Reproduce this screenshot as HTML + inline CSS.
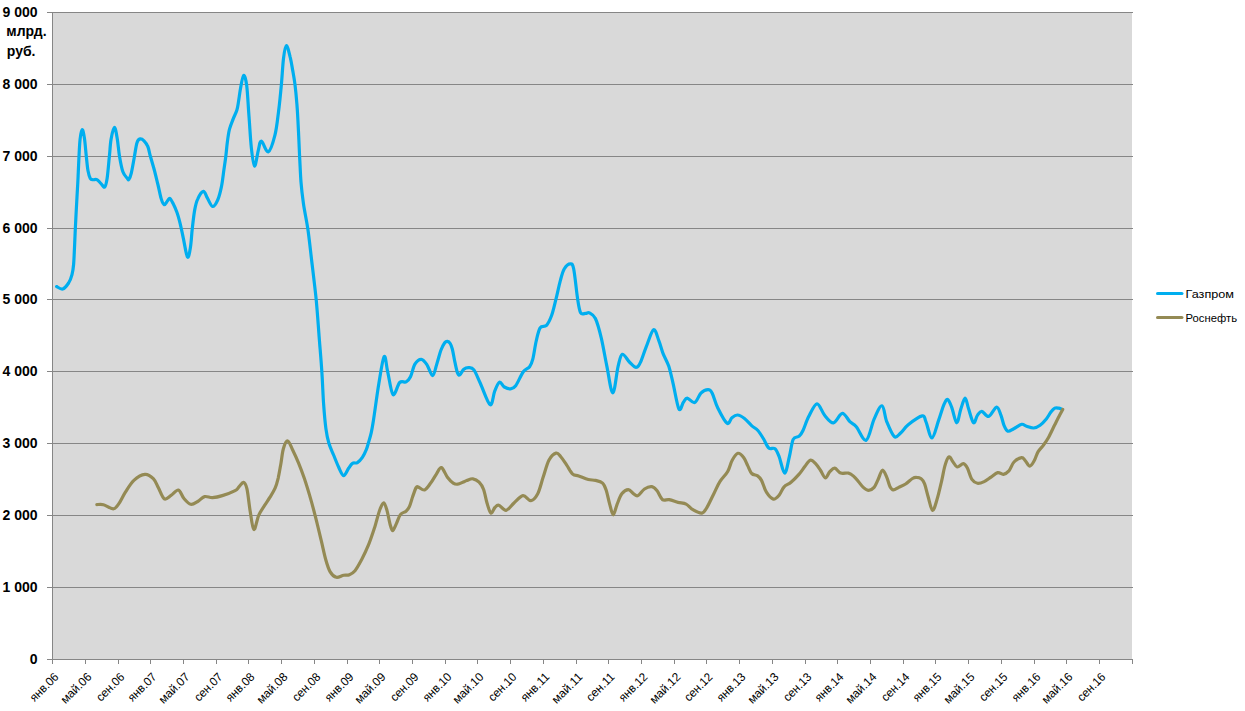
<!DOCTYPE html>
<html><head><meta charset="utf-8"><style>
html,body{margin:0;padding:0;background:#fff;}
body{width:1245px;height:711px;overflow:hidden;}
svg{display:block;}
.yl{font-family:"Liberation Sans",sans-serif;font-weight:bold;font-size:14px;fill:#000;}
.xl{font-family:"Liberation Sans",sans-serif;font-size:12px;fill:#000;}
.lg{font-family:"Liberation Sans",sans-serif;font-size:11.5px;fill:#000;}
.un{font-family:"Liberation Sans",sans-serif;font-weight:bold;font-size:14px;fill:#000;}
</style></head><body>
<svg width="1245" height="711" viewBox="0 0 1245 711">
<rect width="1245" height="711" fill="#fff"/>
<rect x="52.5" y="12.0" width="1079.5" height="647.0" fill="#d9d9d9"/><line x1="47" y1="12.5" x2="1133.0" y2="12.5" stroke="#868686" stroke-width="1"/><line x1="47" y1="84.5" x2="1133.0" y2="84.5" stroke="#868686" stroke-width="1"/><line x1="47" y1="156.5" x2="1133.0" y2="156.5" stroke="#868686" stroke-width="1"/><line x1="47" y1="228.5" x2="1133.0" y2="228.5" stroke="#868686" stroke-width="1"/><line x1="47" y1="299.5" x2="1133.0" y2="299.5" stroke="#868686" stroke-width="1"/><line x1="47" y1="371.5" x2="1133.0" y2="371.5" stroke="#868686" stroke-width="1"/><line x1="47" y1="443.5" x2="1133.0" y2="443.5" stroke="#868686" stroke-width="1"/><line x1="47" y1="515.5" x2="1133.0" y2="515.5" stroke="#868686" stroke-width="1"/><line x1="47" y1="587.5" x2="1133.0" y2="587.5" stroke="#868686" stroke-width="1"/><line x1="47" y1="659.5" x2="1132.0" y2="659.5" stroke="#868686" stroke-width="1"/><line x1="52.5" y1="12.0" x2="52.5" y2="659.5" stroke="#868686" stroke-width="1"/><line x1="52.5" y1="659.0" x2="52.5" y2="664.0" stroke="#868686" stroke-width="1"/><line x1="85.5" y1="659.0" x2="85.5" y2="664.0" stroke="#868686" stroke-width="1"/><line x1="118.5" y1="659.0" x2="118.5" y2="664.0" stroke="#868686" stroke-width="1"/><line x1="150.5" y1="659.0" x2="150.5" y2="664.0" stroke="#868686" stroke-width="1"/><line x1="183.5" y1="659.0" x2="183.5" y2="664.0" stroke="#868686" stroke-width="1"/><line x1="216.5" y1="659.0" x2="216.5" y2="664.0" stroke="#868686" stroke-width="1"/><line x1="248.5" y1="659.0" x2="248.5" y2="664.0" stroke="#868686" stroke-width="1"/><line x1="281.5" y1="659.0" x2="281.5" y2="664.0" stroke="#868686" stroke-width="1"/><line x1="314.5" y1="659.0" x2="314.5" y2="664.0" stroke="#868686" stroke-width="1"/><line x1="347.5" y1="659.0" x2="347.5" y2="664.0" stroke="#868686" stroke-width="1"/><line x1="379.5" y1="659.0" x2="379.5" y2="664.0" stroke="#868686" stroke-width="1"/><line x1="412.5" y1="659.0" x2="412.5" y2="664.0" stroke="#868686" stroke-width="1"/><line x1="445.5" y1="659.0" x2="445.5" y2="664.0" stroke="#868686" stroke-width="1"/><line x1="477.5" y1="659.0" x2="477.5" y2="664.0" stroke="#868686" stroke-width="1"/><line x1="510.5" y1="659.0" x2="510.5" y2="664.0" stroke="#868686" stroke-width="1"/><line x1="543.5" y1="659.0" x2="543.5" y2="664.0" stroke="#868686" stroke-width="1"/><line x1="576.5" y1="659.0" x2="576.5" y2="664.0" stroke="#868686" stroke-width="1"/><line x1="608.5" y1="659.0" x2="608.5" y2="664.0" stroke="#868686" stroke-width="1"/><line x1="641.5" y1="659.0" x2="641.5" y2="664.0" stroke="#868686" stroke-width="1"/><line x1="674.5" y1="659.0" x2="674.5" y2="664.0" stroke="#868686" stroke-width="1"/><line x1="706.5" y1="659.0" x2="706.5" y2="664.0" stroke="#868686" stroke-width="1"/><line x1="739.5" y1="659.0" x2="739.5" y2="664.0" stroke="#868686" stroke-width="1"/><line x1="772.5" y1="659.0" x2="772.5" y2="664.0" stroke="#868686" stroke-width="1"/><line x1="805.5" y1="659.0" x2="805.5" y2="664.0" stroke="#868686" stroke-width="1"/><line x1="837.5" y1="659.0" x2="837.5" y2="664.0" stroke="#868686" stroke-width="1"/><line x1="870.5" y1="659.0" x2="870.5" y2="664.0" stroke="#868686" stroke-width="1"/><line x1="903.5" y1="659.0" x2="903.5" y2="664.0" stroke="#868686" stroke-width="1"/><line x1="935.5" y1="659.0" x2="935.5" y2="664.0" stroke="#868686" stroke-width="1"/><line x1="968.5" y1="659.0" x2="968.5" y2="664.0" stroke="#868686" stroke-width="1"/><line x1="1001.5" y1="659.0" x2="1001.5" y2="664.0" stroke="#868686" stroke-width="1"/><line x1="1034.5" y1="659.0" x2="1034.5" y2="664.0" stroke="#868686" stroke-width="1"/><line x1="1066.5" y1="659.0" x2="1066.5" y2="664.0" stroke="#868686" stroke-width="1"/><line x1="1099.5" y1="659.0" x2="1099.5" y2="664.0" stroke="#868686" stroke-width="1"/><line x1="1132.5" y1="659.0" x2="1132.5" y2="664.0" stroke="#868686" stroke-width="1"/><path d="M56.6,286.6 C57.6,287.0 60.7,289.6 62.7,289.0 C64.7,288.4 67.0,285.4 68.6,283.0 C70.1,280.6 71.2,277.7 72.0,274.6 C72.8,271.5 73.2,269.0 73.6,264.5 C74.0,260.0 74.2,253.5 74.5,247.6 C74.8,241.7 74.9,237.4 75.3,229.0 C75.7,220.6 76.5,205.7 77.0,196.9 C77.5,188.1 77.8,183.1 78.1,176.3 C78.4,169.5 78.7,162.4 79.0,156.2 C79.3,150.0 79.6,143.5 80.1,139.1 C80.6,134.7 81.5,129.8 82.2,129.6 C82.9,129.4 83.7,133.6 84.4,138.0 C85.1,142.4 85.7,150.8 86.3,156.2 C86.9,161.6 87.3,167.0 88.0,170.7 C88.7,174.4 89.5,177.0 90.3,178.5 C91.1,180.0 92.0,179.5 93.1,179.7 C94.2,179.9 95.7,179.0 97.0,179.7 C98.3,180.3 99.7,182.4 101.0,183.6 C102.3,184.8 103.7,187.8 104.7,187.0 C105.7,186.2 106.3,183.6 107.1,178.5 C107.9,173.4 108.7,162.8 109.4,156.2 C110.1,149.6 110.2,143.9 111.1,139.1 C111.9,134.3 113.5,127.3 114.5,127.3 C115.5,127.3 116.5,134.3 117.3,139.1 C118.1,143.9 118.6,150.8 119.5,156.2 C120.4,161.6 121.6,168.1 122.9,171.8 C124.2,175.5 126.4,177.2 127.4,178.5 C128.4,179.8 128.2,180.3 128.8,179.4 C129.5,178.5 130.4,177.0 131.3,173.1 C132.2,169.2 133.6,161.1 134.5,156.0 C135.4,150.9 136.1,145.5 137.0,142.7 C137.9,139.8 139.0,139.2 140.2,138.9 C141.4,138.6 142.7,139.5 144.0,140.8 C145.3,142.1 146.8,144.0 147.8,146.5 C148.9,149.0 149.2,152.2 150.3,156.0 C151.4,159.8 152.8,164.6 154.1,169.3 C155.4,174.1 156.7,179.7 157.9,184.5 C159.1,189.3 160.1,195.0 161.1,198.4 C162.1,201.8 163.1,204.3 164.2,204.7 C165.2,205.1 166.4,202.1 167.4,201.0 C168.4,199.9 169.0,198.0 169.9,198.4 C170.8,198.8 171.9,201.2 173.1,203.5 C174.3,205.8 175.7,209.0 176.9,212.3 C178.1,215.6 179.0,219.0 180.1,223.3 C181.2,227.6 182.1,232.5 183.3,238.1 C184.5,243.7 186.3,255.6 187.5,257.1 C188.7,258.6 189.7,251.7 190.5,246.9 C191.3,242.1 191.6,234.6 192.3,228.4 C193.0,222.2 193.8,214.8 194.7,209.9 C195.6,205.0 196.2,202.2 197.7,199.1 C199.1,196.0 201.8,191.6 203.4,191.4 C205.0,191.2 205.8,195.4 207.3,197.9 C208.8,200.4 210.9,206.2 212.6,206.5 C214.3,206.8 216.2,203.3 217.7,200.0 C219.2,196.7 220.4,191.5 221.4,186.8 C222.4,182.1 222.9,177.1 223.6,172.0 C224.3,166.9 225.2,161.4 225.8,156.5 C226.4,151.6 226.7,147.1 227.3,142.5 C227.9,137.9 228.5,133.1 229.5,129.2 C230.5,125.3 232.0,122.1 233.2,118.9 C234.4,115.7 236.0,113.0 236.9,110.0 C237.8,107.0 238.0,104.6 238.6,101.0 C239.2,97.4 239.7,92.8 240.5,88.5 C241.3,84.2 242.6,75.9 243.6,75.4 C244.6,74.9 245.8,78.7 246.7,85.5 C247.6,92.3 248.2,106.1 249.0,116.4 C249.8,126.7 250.4,139.0 251.3,147.3 C252.2,155.6 253.3,165.5 254.5,166.0 C255.7,166.5 257.2,154.6 258.3,150.4 C259.4,146.2 259.7,140.8 261.4,141.1 C263.1,141.3 266.0,152.9 268.3,151.9 C270.6,150.9 273.3,141.6 275.0,134.9 C276.7,128.2 277.4,120.4 278.5,112.0 C279.6,103.6 280.6,93.3 281.4,84.4 C282.2,75.5 282.7,65.0 283.5,58.5 C284.3,52.0 285.3,45.9 286.4,45.6 C287.5,45.3 289.1,52.8 290.1,56.9 C291.2,61.0 291.9,65.9 292.7,70.4 C293.5,74.9 294.2,78.3 294.9,83.9 C295.6,89.5 296.3,96.8 296.9,104.1 C297.5,111.4 297.9,119.3 298.3,128.0 C298.8,136.7 299.2,147.4 299.6,156.4 C300.1,165.4 300.4,174.2 301.0,182.2 C301.6,190.1 302.4,196.4 303.5,204.1 C304.6,211.8 306.3,218.8 307.7,228.1 C309.1,237.4 310.2,248.1 311.6,260.0 C313.0,271.9 314.9,286.9 316.2,299.6 C317.4,312.3 318.2,324.4 319.1,336.3 C320.0,348.2 321.1,359.9 321.8,371.2 C322.6,382.5 322.9,394.3 323.6,403.9 C324.3,413.5 325.0,422.0 325.9,428.6 C326.8,435.2 327.6,438.8 328.9,443.3 C330.2,447.8 332.2,451.5 333.8,455.5 C335.4,459.5 337.1,463.9 338.7,467.3 C340.3,470.7 342.0,475.5 343.6,475.7 C345.2,475.9 347.1,470.4 348.6,468.3 C350.1,466.2 351.0,464.2 352.5,463.3 C354.0,462.4 355.8,463.6 357.4,462.6 C359.0,461.6 360.9,459.6 362.4,457.4 C363.9,455.2 365.3,452.0 366.3,449.6 C367.3,447.2 367.5,446.1 368.3,443.3 C369.1,440.5 370.3,436.7 371.2,432.8 C372.1,428.9 372.2,428.3 373.5,420.0 C374.8,411.7 377.1,393.8 378.9,383.2 C380.7,372.6 382.7,358.5 384.2,356.6 C385.7,354.7 386.2,365.5 387.7,371.8 C389.2,378.1 391.0,392.8 393.0,394.6 C395.0,396.4 397.5,384.6 399.7,382.5 C401.9,380.4 404.3,382.8 406.1,381.9 C407.9,380.9 409.0,379.8 410.5,376.8 C412.0,373.9 413.1,367.1 414.9,364.2 C416.7,361.3 419.3,359.3 421.3,359.4 C423.3,359.5 425.1,362.1 427.0,364.8 C428.9,367.5 431.0,375.9 432.7,375.6 C434.4,375.3 435.7,367.1 437.1,362.9 C438.5,358.7 439.6,353.7 440.9,350.3 C442.2,346.9 443.6,344.2 444.7,342.7 C445.8,341.2 446.5,341.2 447.4,341.3 C448.3,341.4 449.4,342.2 450.2,343.5 C451.0,344.8 451.5,346.0 452.3,349.0 C453.1,352.0 453.9,357.6 454.8,361.6 C455.7,365.6 456.7,371.0 457.6,373.2 C458.5,375.4 459.0,375.3 460.0,374.6 C461.0,373.9 462.3,370.4 463.8,369.2 C465.3,368.0 467.2,367.5 468.9,367.6 C470.6,367.7 472.0,367.3 473.9,369.9 C475.8,372.5 477.6,377.4 480.3,383.2 C483.0,389.0 487.7,403.4 490.1,404.7 C492.5,406.0 493.2,394.6 494.8,390.8 C496.4,387.1 497.9,382.8 499.5,382.2 C501.1,381.6 502.4,385.9 504.3,387.0 C506.2,388.1 508.7,389.1 510.6,388.9 C512.5,388.7 513.6,388.5 515.7,385.7 C517.8,382.9 521.0,375.0 523.3,371.8 C525.6,368.6 528.0,368.8 529.6,366.7 C531.2,364.6 531.7,363.3 532.8,359.1 C533.9,354.9 534.9,346.7 536.1,341.5 C537.3,336.3 538.4,330.5 540.1,327.8 C541.8,325.1 544.6,327.3 546.5,325.3 C548.4,323.3 549.9,320.1 551.5,315.8 C553.1,311.5 554.4,305.3 555.9,299.4 C557.4,293.5 559.0,285.5 560.4,280.4 C561.8,275.3 562.6,271.8 564.2,269.0 C565.9,266.2 568.7,263.9 570.3,263.9 C571.9,263.9 572.5,263.3 573.7,269.0 C574.9,274.7 576.4,290.8 577.5,298.1 C578.6,305.4 579.2,310.2 580.6,312.7 C582.0,315.2 584.2,313.3 585.7,313.3 C587.2,313.3 587.9,312.0 589.5,312.9 C591.1,313.8 593.4,314.3 595.4,318.5 C597.4,322.7 599.4,330.1 601.3,338.1 C603.2,346.1 605.0,357.2 606.9,366.3 C608.8,375.4 610.9,393.0 612.8,393.0 C614.7,393.0 616.5,372.8 618.1,366.3 C619.7,359.9 620.4,355.0 622.3,354.3 C624.2,353.6 627.1,359.8 629.4,362.0 C631.7,364.2 634.2,367.4 636.1,367.4 C638.0,367.4 638.9,365.5 640.6,362.0 C642.3,358.5 644.1,352.0 646.3,346.6 C648.5,341.2 651.5,330.6 653.6,329.7 C655.7,328.8 657.3,336.9 658.9,340.9 C660.5,344.9 661.5,349.4 663.1,353.6 C664.8,357.8 667.1,361.4 668.8,366.3 C670.4,371.2 671.3,376.0 673.0,383.1 C674.7,390.2 677.2,405.8 678.9,409.0 C680.6,412.2 682.0,404.1 683.4,402.3 C684.8,400.5 685.3,398.1 687.2,398.1 C689.1,398.2 692.3,403.4 694.6,402.6 C696.9,401.8 698.7,395.4 700.9,393.2 C703.1,391.0 706.1,389.7 708.0,389.7 C709.9,389.7 710.6,390.1 712.2,393.2 C713.8,396.2 715.3,403.0 717.8,408.0 C720.3,413.0 724.6,421.6 727.0,423.2 C729.4,424.8 730.1,419.2 731.9,417.8 C733.6,416.4 735.4,414.9 737.5,415.0 C739.6,415.1 742.1,416.7 744.5,418.5 C746.9,420.3 749.4,423.6 751.6,425.6 C753.8,427.6 755.9,428.3 757.9,430.5 C759.9,432.7 761.8,436.1 763.6,439.0 C765.4,441.9 766.9,446.4 768.8,448.0 C770.7,449.6 773.3,447.3 775.0,448.7 C776.7,450.1 777.5,452.4 779.1,456.5 C780.7,460.6 783.0,473.2 784.7,473.2 C786.4,473.2 788.0,462.1 789.4,456.5 C790.8,450.9 791.6,442.8 793.2,439.4 C794.8,436.0 797.6,437.7 799.2,436.2 C800.8,434.7 801.4,433.8 803.0,430.5 C804.6,427.2 806.4,421.0 808.7,416.6 C811.0,412.2 814.4,404.1 817.0,403.9 C819.6,403.7 821.9,412.1 824.6,415.3 C827.3,418.5 830.5,423.2 833.4,422.9 C836.3,422.6 839.5,413.6 842.3,413.4 C845.0,413.2 847.6,419.4 849.9,421.6 C852.2,423.8 853.6,423.6 856.3,426.7 C859.0,429.8 863.2,441.5 866.2,440.2 C869.2,438.9 871.5,424.8 874.1,419.1 C876.7,413.4 879.9,405.4 882.0,405.8 C884.1,406.2 884.7,416.5 886.7,421.6 C888.8,426.7 892.0,434.7 894.3,436.6 C896.6,438.5 898.3,435.0 900.6,433.0 C902.9,431.0 904.6,427.7 908.2,424.8 C911.8,421.9 919.2,416.4 922.2,415.9 C925.2,415.4 924.3,418.0 925.9,421.6 C927.5,425.2 929.9,438.0 932.0,437.8 C934.1,437.6 936.6,425.9 938.6,420.4 C940.6,414.9 942.4,408.1 943.9,404.6 C945.4,401.1 946.4,399.0 947.7,399.5 C949.0,400.0 950.3,403.7 951.8,407.6 C953.3,411.5 955.2,422.5 956.7,422.8 C958.2,423.1 959.3,413.6 960.7,409.5 C962.1,405.4 963.8,398.4 965.1,398.2 C966.4,398.0 967.1,404.4 968.5,408.5 C969.9,412.6 972.0,421.7 973.5,422.8 C975.0,423.9 976.0,417.3 977.4,415.4 C978.8,413.5 979.9,411.1 981.8,411.3 C983.7,411.5 986.2,417.1 988.7,416.4 C991.2,415.7 994.6,407.3 996.6,407.1 C998.6,406.9 999.8,412.4 1001.0,415.4 C1002.2,418.4 1002.9,422.7 1004.0,425.3 C1005.1,427.9 1006.3,430.6 1007.9,431.2 C1009.5,431.8 1011.5,429.8 1013.8,428.7 C1016.1,427.6 1019.6,424.7 1021.7,424.3 C1023.8,423.9 1024.6,425.7 1026.6,426.3 C1028.6,426.9 1031.5,428.2 1033.7,428.0 C1036.0,427.8 1038.0,426.7 1040.1,425.2 C1042.2,423.7 1044.5,421.2 1046.3,419.0 C1048.1,416.8 1049.5,413.9 1050.9,412.1 C1052.3,410.3 1053.5,408.9 1054.8,408.2 C1056.1,407.5 1057.5,408.0 1058.7,408.2 C1059.9,408.4 1061.5,409.2 1062.1,409.4" fill="none" stroke="#00aeef" stroke-width="3.2" stroke-linejoin="round" stroke-linecap="round"/><path d="M96.8,504.6 C97.9,504.6 100.8,504.0 103.5,504.7 C106.2,505.4 110.7,509.0 113.2,508.9 C115.7,508.8 116.7,506.7 118.7,503.9 C120.7,501.1 122.9,496.0 125.4,492.1 C127.9,488.2 130.7,483.3 133.9,480.3 C137.2,477.3 141.7,474.6 144.9,474.3 C148.1,474.0 151.1,476.4 153.3,478.6 C155.6,480.9 156.6,484.4 158.4,487.8 C160.2,491.2 162.2,497.5 164.3,498.8 C166.4,500.1 168.7,496.9 171.0,495.4 C173.3,493.9 176.3,489.5 178.4,490.0 C180.5,490.5 181.7,495.9 183.8,498.3 C185.9,500.7 188.5,503.8 190.8,504.3 C193.1,504.8 195.4,502.8 197.7,501.5 C200.0,500.2 202.1,497.2 204.6,496.6 C207.1,496.0 209.6,497.8 212.5,497.6 C215.4,497.4 218.5,496.8 222.3,495.6 C226.1,494.5 232.3,492.2 235.1,490.7 C237.9,489.2 237.7,488.1 239.1,486.7 C240.5,485.3 242.2,482.0 243.5,482.3 C244.8,482.6 245.8,484.2 246.9,488.7 C248.0,493.2 248.8,502.6 249.9,509.4 C251.1,516.2 252.3,528.5 253.8,529.5 C255.3,530.5 256.9,519.3 258.7,515.3 C260.5,511.3 262.7,508.4 264.6,505.4 C266.5,502.4 268.2,500.0 270.0,497.1 C271.8,494.2 273.7,491.4 275.1,488.2 C276.5,485.0 277.2,482.1 278.2,478.1 C279.1,474.1 279.9,469.1 280.8,464.2 C281.7,459.3 282.2,452.9 283.3,449.0 C284.4,445.1 286.0,440.8 287.5,440.8 C289.0,440.8 290.4,445.3 292.2,449.0 C294.0,452.7 296.5,458.0 298.5,462.9 C300.5,467.8 302.2,472.2 304.2,478.1 C306.2,484.0 308.6,491.9 310.5,498.4 C312.4,504.9 313.8,510.3 315.6,517.3 C317.4,524.3 319.5,533.4 321.2,540.4 C322.9,547.4 324.2,554.2 325.7,559.5 C327.2,564.8 328.4,568.9 330.2,571.9 C332.0,574.9 334.1,576.8 336.4,577.3 C338.6,577.8 341.5,575.6 343.7,575.2 C345.9,574.8 347.5,575.5 349.4,574.7 C351.3,574.0 352.9,573.2 355.0,570.7 C357.1,568.2 359.4,563.8 361.7,559.5 C363.9,555.2 366.4,550.0 368.5,544.9 C370.6,539.8 372.7,533.2 374.1,529.1 C375.5,525.0 375.7,523.6 376.7,520.2 C377.7,516.9 378.9,511.9 380.1,509.0 C381.3,506.1 382.6,502.6 383.7,502.8 C384.8,503.0 385.8,506.5 386.9,510.1 C388.0,513.8 389.2,521.3 390.2,524.7 C391.2,528.1 391.7,530.8 392.7,530.6 C393.7,530.4 395.1,526.3 396.4,523.6 C397.7,520.9 398.8,516.7 400.4,514.6 C402.0,512.5 404.5,512.5 406.0,511.2 C407.5,509.9 408.3,509.1 409.4,506.7 C410.5,504.3 411.6,499.8 412.7,496.6 C413.8,493.4 415.2,489.2 416.1,487.6 C417.1,486.0 417.0,486.7 418.4,487.1 C419.8,487.5 422.6,490.6 424.6,489.9 C426.7,489.2 428.7,485.7 430.7,483.1 C432.7,480.5 434.6,476.7 436.4,474.1 C438.2,471.5 439.5,467.0 441.4,467.6 C443.3,468.2 445.6,474.9 447.6,477.5 C449.6,480.1 451.5,482.0 453.2,483.1 C454.9,484.2 456.0,484.4 457.7,484.2 C459.4,484.0 461.9,482.6 463.4,482.0 C464.9,481.4 465.1,481.0 466.7,480.5 C468.3,480.0 470.8,478.5 472.9,478.8 C475.0,479.1 477.3,480.4 479.1,482.2 C480.9,484.0 482.3,486.0 483.6,489.5 C484.9,493.0 485.8,499.1 487.0,503.0 C488.2,506.9 489.6,512.4 490.9,513.1 C492.2,513.9 493.6,508.8 494.9,507.5 C496.2,506.2 496.9,504.7 498.8,505.2 C500.7,505.7 503.6,510.7 506.1,510.3 C508.6,509.9 511.2,505.4 514.0,503.0 C516.8,500.6 520.2,496.1 523.0,495.7 C525.8,495.3 528.5,501.0 530.9,500.7 C533.3,500.4 535.5,497.9 537.6,494.0 C539.7,490.1 541.3,482.7 543.2,477.1 C545.1,471.5 546.8,464.2 548.9,460.2 C551.0,456.2 554.1,453.7 556.1,453.1 C558.1,452.5 559.0,454.7 560.8,456.7 C562.6,458.7 564.7,462.2 566.7,465.1 C568.7,468.0 570.7,472.3 572.7,474.1 C574.7,475.9 576.1,475.0 578.7,475.9 C581.3,476.8 585.5,478.8 588.3,479.5 C591.1,480.2 593.1,479.8 595.5,480.4 C597.9,481.0 600.8,481.5 602.6,483.1 C604.4,484.7 605.0,486.6 606.2,490.2 C607.4,493.8 608.6,500.5 609.8,504.6 C611.0,508.7 612.0,514.8 613.2,514.8 C614.4,514.8 615.6,508.1 617.0,504.6 C618.4,501.1 619.9,496.3 621.8,493.8 C623.7,491.3 626.3,489.6 628.3,489.6 C630.3,489.6 632.1,492.8 633.7,493.8 C635.3,494.8 636.1,496.4 637.9,495.6 C639.7,494.8 642.2,490.5 644.5,489.0 C646.8,487.5 649.7,486.4 651.8,486.7 C653.9,487.0 655.1,488.5 656.9,490.6 C658.7,492.8 660.5,498.1 662.5,499.6 C664.5,501.1 666.6,499.1 669.2,499.6 C671.8,500.1 675.4,501.6 678.2,502.4 C681.0,503.1 683.7,502.9 686.1,504.1 C688.5,505.3 690.3,508.2 692.9,509.7 C695.5,511.2 699.5,513.6 701.9,513.1 C704.3,512.6 705.5,509.8 707.5,506.4 C709.5,503.0 712.1,497.0 714.2,492.9 C716.3,488.8 717.6,485.2 719.9,481.6 C722.1,478.0 725.7,475.1 727.7,471.5 C729.8,467.9 730.5,463.2 732.2,460.2 C733.9,457.2 736.0,453.7 737.9,453.3 C739.8,452.9 742.2,455.6 743.8,457.7 C745.4,459.8 746.4,463.0 747.7,465.6 C749.0,468.2 750.1,471.8 751.7,473.5 C753.4,475.2 756.0,474.8 757.6,475.9 C759.2,477.0 760.0,477.7 761.5,480.4 C763.0,483.1 764.4,489.1 766.4,492.2 C768.4,495.3 771.2,498.6 773.3,499.1 C775.4,499.6 777.4,497.2 779.2,495.1 C781.0,493.1 782.1,488.9 784.1,486.8 C786.1,484.7 788.5,484.4 791.0,482.3 C793.5,480.2 796.6,477.0 798.9,474.4 C801.2,471.8 802.9,469.0 804.8,466.6 C806.7,464.2 808.4,460.7 810.2,460.2 C812.0,459.7 813.9,461.9 815.6,463.6 C817.3,465.3 819.0,468.1 820.6,470.5 C822.2,472.9 823.9,477.8 825.4,478.0 C826.9,478.2 828.2,473.3 829.8,471.7 C831.4,470.1 833.0,468.0 834.8,468.2 C836.6,468.4 838.4,472.3 840.7,473.1 C843.0,473.9 846.4,472.6 848.5,473.1 C850.6,473.6 851.9,474.7 853.5,476.1 C855.1,477.5 856.8,479.6 858.4,481.5 C860.0,483.4 861.6,485.9 863.3,487.4 C865.0,488.9 866.9,490.4 868.7,490.4 C870.5,490.4 872.5,489.2 874.1,487.4 C875.7,485.6 876.7,482.4 878.1,479.5 C879.5,476.6 881.0,470.5 882.5,470.2 C884.0,469.9 885.7,474.9 886.9,477.6 C888.1,480.3 888.8,484.3 889.9,486.4 C891.0,488.4 891.8,489.7 893.3,489.9 C894.8,490.1 896.7,488.4 898.7,487.4 C900.8,486.4 903.3,485.5 905.6,484.0 C907.9,482.5 910.7,479.6 912.5,478.5 C914.3,477.4 915.0,477.3 916.5,477.4 C918.0,477.4 919.9,477.7 921.2,478.8 C922.6,479.9 923.5,481.0 924.6,483.9 C925.7,486.8 926.7,491.8 928.0,496.2 C929.3,500.6 931.0,509.7 932.5,510.3 C934.0,510.9 935.5,504.4 937.0,499.6 C938.5,494.8 940.2,487.2 941.5,481.6 C942.8,476.0 943.7,470.0 944.9,465.9 C946.1,461.8 947.5,457.6 948.8,456.9 C950.1,456.1 951.3,459.7 952.7,461.4 C954.1,463.1 955.4,466.6 957.2,467.0 C959.0,467.4 961.7,463.4 963.4,463.6 C965.1,463.8 966.0,465.5 967.4,468.1 C968.8,470.7 970.2,476.9 971.9,479.4 C973.6,481.9 975.5,482.9 977.5,483.3 C979.5,483.7 982.0,482.6 984.2,481.6 C986.5,480.6 988.8,478.6 991.0,477.1 C993.2,475.6 995.6,473.1 997.7,472.6 C999.8,472.1 1001.5,474.6 1003.4,474.3 C1005.3,474.0 1007.1,472.9 1008.9,470.9 C1010.7,468.8 1011.9,464.2 1014.0,462.0 C1016.1,459.8 1019.7,457.8 1021.6,457.6 C1023.5,457.4 1024.0,459.4 1025.4,460.8 C1026.8,462.2 1028.3,466.1 1029.8,466.1 C1031.3,466.1 1032.8,463.2 1034.2,460.8 C1035.6,458.4 1036.5,454.4 1038.0,451.9 C1039.5,449.4 1041.4,447.9 1043.1,445.6 C1044.8,443.3 1046.3,441.4 1048.2,438.0 C1050.1,434.6 1052.6,429.1 1054.5,425.3 C1056.4,421.5 1058.2,417.8 1059.6,415.2 C1061.0,412.6 1062.2,410.4 1062.7,409.5" fill="none" stroke="#948a54" stroke-width="3.2" stroke-linejoin="round" stroke-linecap="round"/>
<text x="37.6" y="16.9" text-anchor="end" class="yl">9 000</text><text x="37.6" y="88.9" text-anchor="end" class="yl">8 000</text><text x="37.6" y="160.9" text-anchor="end" class="yl">7 000</text><text x="37.6" y="232.9" text-anchor="end" class="yl">6 000</text><text x="37.6" y="303.9" text-anchor="end" class="yl">5 000</text><text x="37.6" y="375.9" text-anchor="end" class="yl">4 000</text><text x="37.6" y="447.9" text-anchor="end" class="yl">3 000</text><text x="37.6" y="519.9" text-anchor="end" class="yl">2 000</text><text x="37.6" y="591.9" text-anchor="end" class="yl">1 000</text><text x="37.6" y="663.9" text-anchor="end" class="yl">0</text>
<text x="0" y="0" transform="translate(59.3,677.6) rotate(-45)" text-anchor="end" textLength="35.0" lengthAdjust="spacingAndGlyphs" class="xl">янв.06</text><text x="0" y="0" transform="translate(92.3,677.6) rotate(-45)" text-anchor="end" textLength="37.8" lengthAdjust="spacingAndGlyphs" class="xl">май.06</text><text x="0" y="0" transform="translate(125.3,677.6) rotate(-45)" text-anchor="end" textLength="34.5" lengthAdjust="spacingAndGlyphs" class="xl">сен.06</text><text x="0" y="0" transform="translate(157.3,677.6) rotate(-45)" text-anchor="end" textLength="35.0" lengthAdjust="spacingAndGlyphs" class="xl">янв.07</text><text x="0" y="0" transform="translate(190.3,677.6) rotate(-45)" text-anchor="end" textLength="37.8" lengthAdjust="spacingAndGlyphs" class="xl">май.07</text><text x="0" y="0" transform="translate(223.3,677.6) rotate(-45)" text-anchor="end" textLength="34.5" lengthAdjust="spacingAndGlyphs" class="xl">сен.07</text><text x="0" y="0" transform="translate(255.3,677.6) rotate(-45)" text-anchor="end" textLength="35.0" lengthAdjust="spacingAndGlyphs" class="xl">янв.08</text><text x="0" y="0" transform="translate(288.3,677.6) rotate(-45)" text-anchor="end" textLength="37.8" lengthAdjust="spacingAndGlyphs" class="xl">май.08</text><text x="0" y="0" transform="translate(321.3,677.6) rotate(-45)" text-anchor="end" textLength="34.5" lengthAdjust="spacingAndGlyphs" class="xl">сен.08</text><text x="0" y="0" transform="translate(354.3,677.6) rotate(-45)" text-anchor="end" textLength="35.0" lengthAdjust="spacingAndGlyphs" class="xl">янв.09</text><text x="0" y="0" transform="translate(386.3,677.6) rotate(-45)" text-anchor="end" textLength="37.8" lengthAdjust="spacingAndGlyphs" class="xl">май.09</text><text x="0" y="0" transform="translate(419.3,677.6) rotate(-45)" text-anchor="end" textLength="34.5" lengthAdjust="spacingAndGlyphs" class="xl">сен.09</text><text x="0" y="0" transform="translate(452.3,677.6) rotate(-45)" text-anchor="end" textLength="35.0" lengthAdjust="spacingAndGlyphs" class="xl">янв.10</text><text x="0" y="0" transform="translate(484.3,677.6) rotate(-45)" text-anchor="end" textLength="37.8" lengthAdjust="spacingAndGlyphs" class="xl">май.10</text><text x="0" y="0" transform="translate(517.3,677.6) rotate(-45)" text-anchor="end" textLength="34.5" lengthAdjust="spacingAndGlyphs" class="xl">сен.10</text><text x="0" y="0" transform="translate(550.3,677.6) rotate(-45)" text-anchor="end" textLength="35.0" lengthAdjust="spacingAndGlyphs" class="xl">янв.11</text><text x="0" y="0" transform="translate(583.3,677.6) rotate(-45)" text-anchor="end" textLength="37.8" lengthAdjust="spacingAndGlyphs" class="xl">май.11</text><text x="0" y="0" transform="translate(615.3,677.6) rotate(-45)" text-anchor="end" textLength="34.5" lengthAdjust="spacingAndGlyphs" class="xl">сен.11</text><text x="0" y="0" transform="translate(648.3,677.6) rotate(-45)" text-anchor="end" textLength="35.0" lengthAdjust="spacingAndGlyphs" class="xl">янв.12</text><text x="0" y="0" transform="translate(681.3,677.6) rotate(-45)" text-anchor="end" textLength="37.8" lengthAdjust="spacingAndGlyphs" class="xl">май.12</text><text x="0" y="0" transform="translate(713.3,677.6) rotate(-45)" text-anchor="end" textLength="34.5" lengthAdjust="spacingAndGlyphs" class="xl">сен.12</text><text x="0" y="0" transform="translate(746.3,677.6) rotate(-45)" text-anchor="end" textLength="35.0" lengthAdjust="spacingAndGlyphs" class="xl">янв.13</text><text x="0" y="0" transform="translate(779.3,677.6) rotate(-45)" text-anchor="end" textLength="37.8" lengthAdjust="spacingAndGlyphs" class="xl">май.13</text><text x="0" y="0" transform="translate(812.3,677.6) rotate(-45)" text-anchor="end" textLength="34.5" lengthAdjust="spacingAndGlyphs" class="xl">сен.13</text><text x="0" y="0" transform="translate(844.3,677.6) rotate(-45)" text-anchor="end" textLength="35.0" lengthAdjust="spacingAndGlyphs" class="xl">янв.14</text><text x="0" y="0" transform="translate(877.3,677.6) rotate(-45)" text-anchor="end" textLength="37.8" lengthAdjust="spacingAndGlyphs" class="xl">май.14</text><text x="0" y="0" transform="translate(910.3,677.6) rotate(-45)" text-anchor="end" textLength="34.5" lengthAdjust="spacingAndGlyphs" class="xl">сен.14</text><text x="0" y="0" transform="translate(942.3,677.6) rotate(-45)" text-anchor="end" textLength="35.0" lengthAdjust="spacingAndGlyphs" class="xl">янв.15</text><text x="0" y="0" transform="translate(975.3,677.6) rotate(-45)" text-anchor="end" textLength="37.8" lengthAdjust="spacingAndGlyphs" class="xl">май.15</text><text x="0" y="0" transform="translate(1008.3,677.6) rotate(-45)" text-anchor="end" textLength="34.5" lengthAdjust="spacingAndGlyphs" class="xl">сен.15</text><text x="0" y="0" transform="translate(1041.3,677.6) rotate(-45)" text-anchor="end" textLength="35.0" lengthAdjust="spacingAndGlyphs" class="xl">янв.16</text><text x="0" y="0" transform="translate(1073.3,677.6) rotate(-45)" text-anchor="end" textLength="37.8" lengthAdjust="spacingAndGlyphs" class="xl">май.16</text><text x="0" y="0" transform="translate(1106.3,677.6) rotate(-45)" text-anchor="end" textLength="34.5" lengthAdjust="spacingAndGlyphs" class="xl">сен.16</text>
<text x="6.3" y="36" class="un">млрд.</text>
<text x="6.8" y="55.7" class="un">руб.</text>

<line x1="1157.6" y1="293.5" x2="1181.9" y2="293.5" stroke="#00aeef" stroke-width="3.2" stroke-linecap="round"/>
<text x="1185.6" y="297.8" class="lg" textLength="48.4" lengthAdjust="spacingAndGlyphs">Газпром</text>
<line x1="1157.6" y1="317.5" x2="1181.9" y2="317.5" stroke="#948a54" stroke-width="3.2" stroke-linecap="round"/>
<text x="1185.6" y="321.8" class="lg" textLength="51.4" lengthAdjust="spacingAndGlyphs">Роснефть</text>

</svg>
</body></html>
